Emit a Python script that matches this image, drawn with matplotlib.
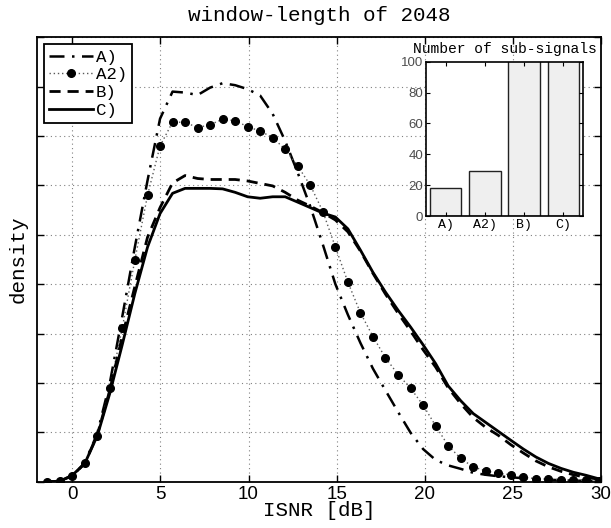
import matplotlib
matplotlib.use("Agg")
from matplotlib import pyplot as plt

# ISNR grid of the density estimates [dB]
isnr = [-1.42, -0.71, 0.00, 0.71, 1.42, 2.13, 2.84, 3.55, 4.27, 4.98,
        5.69, 6.40, 7.11, 7.82, 8.53, 9.24, 9.95, 10.66, 11.37, 12.08,
        12.80, 13.51, 14.22, 14.93, 15.64, 16.35, 17.06, 17.77, 18.49, 19.20,
        19.91, 20.62, 21.33, 22.04, 22.75, 23.46, 24.17, 24.88, 25.60, 26.31,
        27.02, 27.73, 28.44, 29.15, 29.86]

dens_a = [0.00, 0.01, 0.11, 0.38, 0.98, 2.00, 3.35, 4.75, 6.10, 7.35,
          7.90, 7.88, 7.83, 7.98, 8.07, 8.03, 7.95, 7.82, 7.45, 6.90,
          6.25, 5.57, 4.80, 4.00, 3.38, 2.81, 2.29, 1.85, 1.41, 0.99,
          0.66, 0.44, 0.33, 0.26, 0.18, 0.14, 0.11, 0.09, 0.07, 0.05,
          0.04, 0.03, 0.02, 0.02, 0.01]

dens_a2 = [0.00, 0.01, 0.11, 0.37, 0.93, 1.89, 3.12, 4.49, 5.80, 6.80,
           7.28, 7.28, 7.17, 7.23, 7.34, 7.31, 7.19, 7.10, 6.97, 6.73,
           6.39, 6.00, 5.47, 4.75, 4.04, 3.42, 2.94, 2.51, 2.17, 1.89,
           1.55, 1.13, 0.73, 0.47, 0.30, 0.22, 0.17, 0.14, 0.09, 0.06,
           0.05, 0.04, 0.035, 0.03, 0.01]

dens_b = [0.00, 0.01, 0.12, 0.37, 0.95, 1.85, 2.95, 3.95, 4.95, 5.55,
          6.05, 6.20, 6.14, 6.12, 6.12, 6.12, 6.09, 6.04, 5.99, 5.86,
          5.70, 5.58, 5.45, 5.30, 5.06, 4.67, 4.22, 3.80, 3.41, 3.05,
          2.67, 2.32, 1.90, 1.58, 1.30, 1.10, 0.94, 0.75, 0.58, 0.42,
          0.30, 0.21, 0.14, 0.09, 0.05]

dens_c = [0.00, 0.01, 0.13, 0.37, 0.93, 1.79, 2.78, 3.81, 4.75, 5.43,
          5.84, 5.94, 5.94, 5.94, 5.93, 5.86, 5.77, 5.74, 5.77, 5.77,
          5.66, 5.55, 5.44, 5.36, 5.12, 4.69, 4.24, 3.84, 3.47, 3.13,
          2.77, 2.39, 1.94, 1.64, 1.38, 1.20, 1.02, 0.84, 0.66, 0.50,
          0.37, 0.27, 0.19, 0.13, 0.06]

methods = ['A)', 'A2)', 'B)', 'C)']
sub_signals = [18, 29, 140, 140]  # B) and C) run past the top of the inset

mono = 'Liberation Mono'
sans = 'Liberation Sans'

fig = plt.figure(figsize=(6.11, 5.28), dpi=100)
ax = fig.add_axes([0.0606, 0.0877, 0.923, 0.8417])

ax.plot(isnr, dens_a, color='k', lw=1.8, linestyle=(0, (6, 3, 1, 3)), label=methods[0])
ax.plot(isnr, dens_a2, color='0.35', lw=1, linestyle=(0, (1, 2)), marker='o', ms=5.5,
        mfc='k', mec='k', label=methods[1])
ax.plot(isnr, dens_b, color='k', lw=2, linestyle=(0, (4, 2.5)), label=methods[2])
ax.plot(isnr, dens_c, color='k', lw=2, linestyle='-', label=methods[3])

ax.set_xlim(-2, 30)
ax.set_ylim(0, 9)
ax.set_xticks(range(0, 31, 5))
ax.set_yticks(range(10))
ax.set_yticklabels([])
ax.tick_params(direction='in', top=True, right=True, length=5, width=1, labelsize=13.5, pad=3)
for lab in ax.get_xticklabels():
    lab.set_family(sans)
ax.grid(True, color='0.5', linestyle=(0, (1, 3)), lw=0.8)
for sp in ax.spines.values():
    sp.set_linewidth(1.3)

ax.set_xlabel('ISNR [dB]', family=mono, fontsize=15, labelpad=-1)
ax.set_ylabel('density', family=mono, fontsize=15, labelpad=4)
ax.set_title('window-length of 2048', family=mono, fontsize=15, pad=12)

leg = ax.legend(loc='upper left', prop={'family': mono, 'size': 12.5}, fancybox=False,
                edgecolor='k', framealpha=1, handlelength=2.5, handletextpad=0.2,
                labelspacing=0.15, borderaxespad=0.4, borderpad=0.3)
leg.get_frame().set_linewidth(1.3)

# inset: number of sub-signals per method
ax2 = fig.add_axes([0.6972, 0.5909, 0.257, 0.2922])
ax2.bar(range(1, len(methods) + 1), sub_signals, width=0.8, color='#efefef',
        edgecolor='#222222', lw=1)
ax2.set_xlim(0.5, 4.5)
ax2.set_ylim(0, 100)
ax2.set_yticks(range(0, 101, 20))
ax2.set_xticks(range(1, len(methods) + 1))
ax2.set_xticklabels(methods, family=mono, fontsize=9.5)
ax2.tick_params(direction='in', top=True, right=True, length=3, labelsize=9.5, pad=2)
for lab in ax2.get_yticklabels():
    lab.set_family(sans)
    lab.set_color('0.3')
ax2.set_title('Number of sub-signals', family=mono, fontsize=10.5, pad=6)
for sp in ax2.spines.values():
    sp.set_linewidth(1.2)

fig.savefig('out.png', dpi=100)
